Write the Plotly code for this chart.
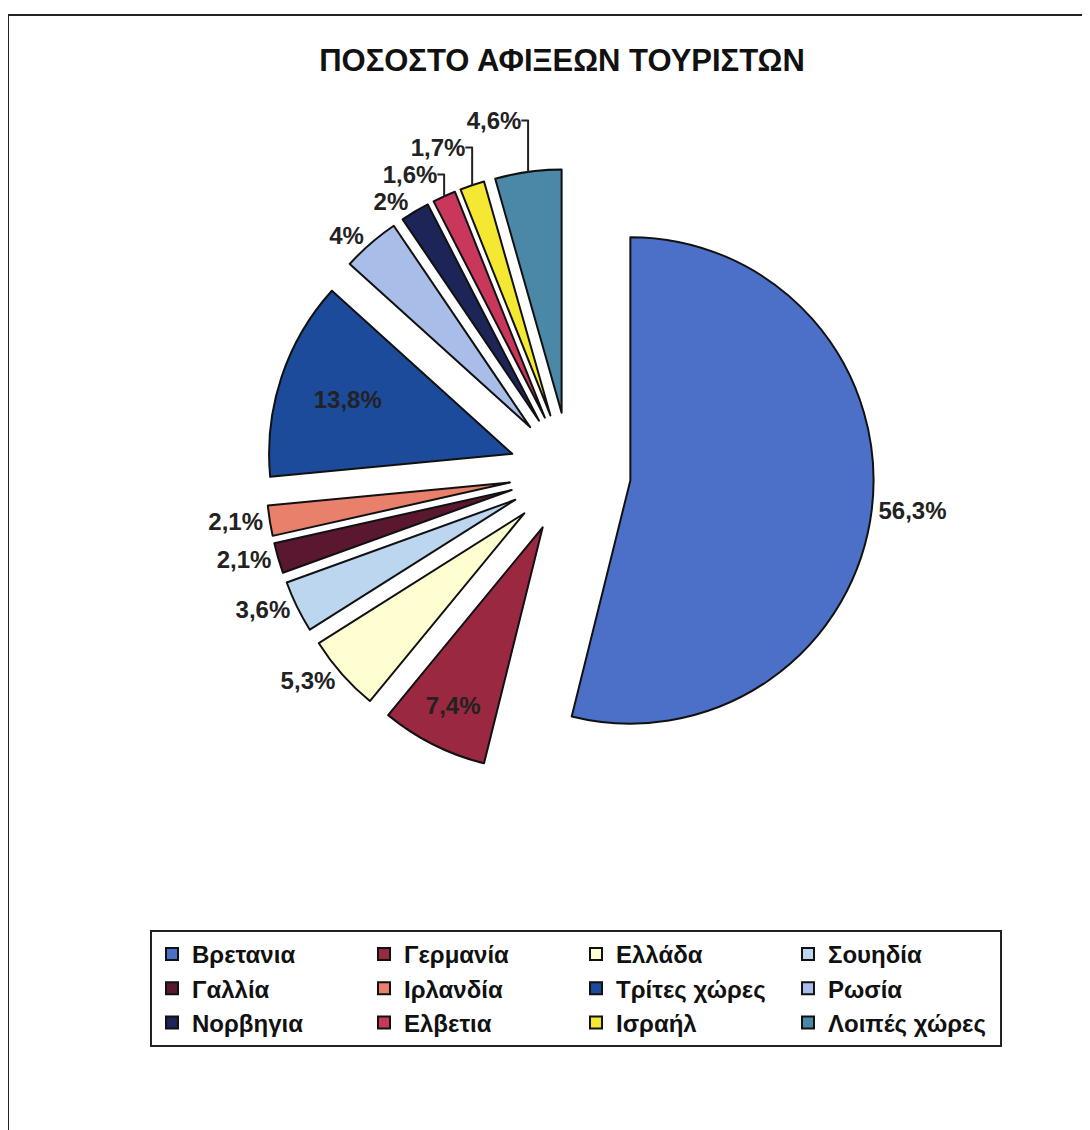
import plotly.graph_objects as go

legend_names = ["Βρετανια", "Γερμανία", "Ελλάδα", "Σουηδία",
                "Γαλλία", "Ιρλανδία", "Τρίτες χώρες", "Ρωσία",
                "Νορβηγια", "Ελβετια", "Ισραήλ", "Λοιπές χώρες"]
values = [56.3, 7.4, 5.3, 3.6, 2.1, 2.1, 13.8, 4.0, 2.0, 1.6, 1.7, 4.6]
colors = ["#4c70c8", "#9a2840", "#fefed0", "#bcd6ef",
          "#5a1730", "#e8806c", "#1d4b9c", "#a9bde9",
          "#1c2458", "#c9385c", "#f4e832", "#4b87a6"]
positions = ["outside", "inside", "outside", "outside",
             "outside", "outside", "inside", "outside",
             "outside", "outside", "outside", "outside"]

texts = [f"{v:g}%".replace(".", ",") for v in values]

W, H = 1090, 1130
MR = 200  # right margin so that the legend wraps after 4 entries
PW = W - MR

fig = go.Figure(go.Pie(
    labels=legend_names,
    values=values,
    text=texts,
    textinfo="text",
    textposition=positions,
    insidetextorientation="horizontal",
    sort=False,
    direction="clockwise",
    rotation=0,
    pull=[0.25] * len(values),
    marker=dict(colors=colors, line=dict(color="#111111", width=2)),
    insidetextfont=dict(family="Liberation Sans, Arial", size=24, color="#222222"),
    outsidetextfont=dict(family="Liberation Sans, Arial", size=24, color="#222222"),
    texttemplate="<b>%{text}</b>",
    hoverinfo="label+text",
    domain=dict(x=[258 / PW, 866 / PW], y=[1 - 769 / H, 1 - 161 / H]),
))

fig.update_layout(
    width=W, height=H,
    margin=dict(l=0, r=MR, t=0, b=0, autoexpand=False),
    paper_bgcolor="white",
    title=dict(text="<b>ΠΟΣΟΣΤΟ ΑΦΙΞΕΩΝ ΤΟΥΡΙΣΤΩΝ</b>", x=554 / W, xanchor="center",
               y=1 - 52 / H, yanchor="middle",
               font=dict(family="Liberation Sans, Arial", size=31, color="#111111")),
    legend=dict(orientation="h", x=142 / PW, xanchor="left", y=1 - 922 / H, yanchor="top",
                entrywidth=167, entrywidthmode="pixels",
                font=dict(family="Liberation Sans, Arial", size=24, color="#111111", weight="bold"),
                bordercolor="#222222", borderwidth=2, bgcolor="white",
                traceorder="normal"),
    shapes=[dict(type="rect", xref="paper", yref="paper",
                 x0=0, x1=(W + 10) / PW, y0=-0.01, y1=1 - 7 / H,
                 line=dict(color="#222222", width=2))],
)

fig.write_html("out.html")
